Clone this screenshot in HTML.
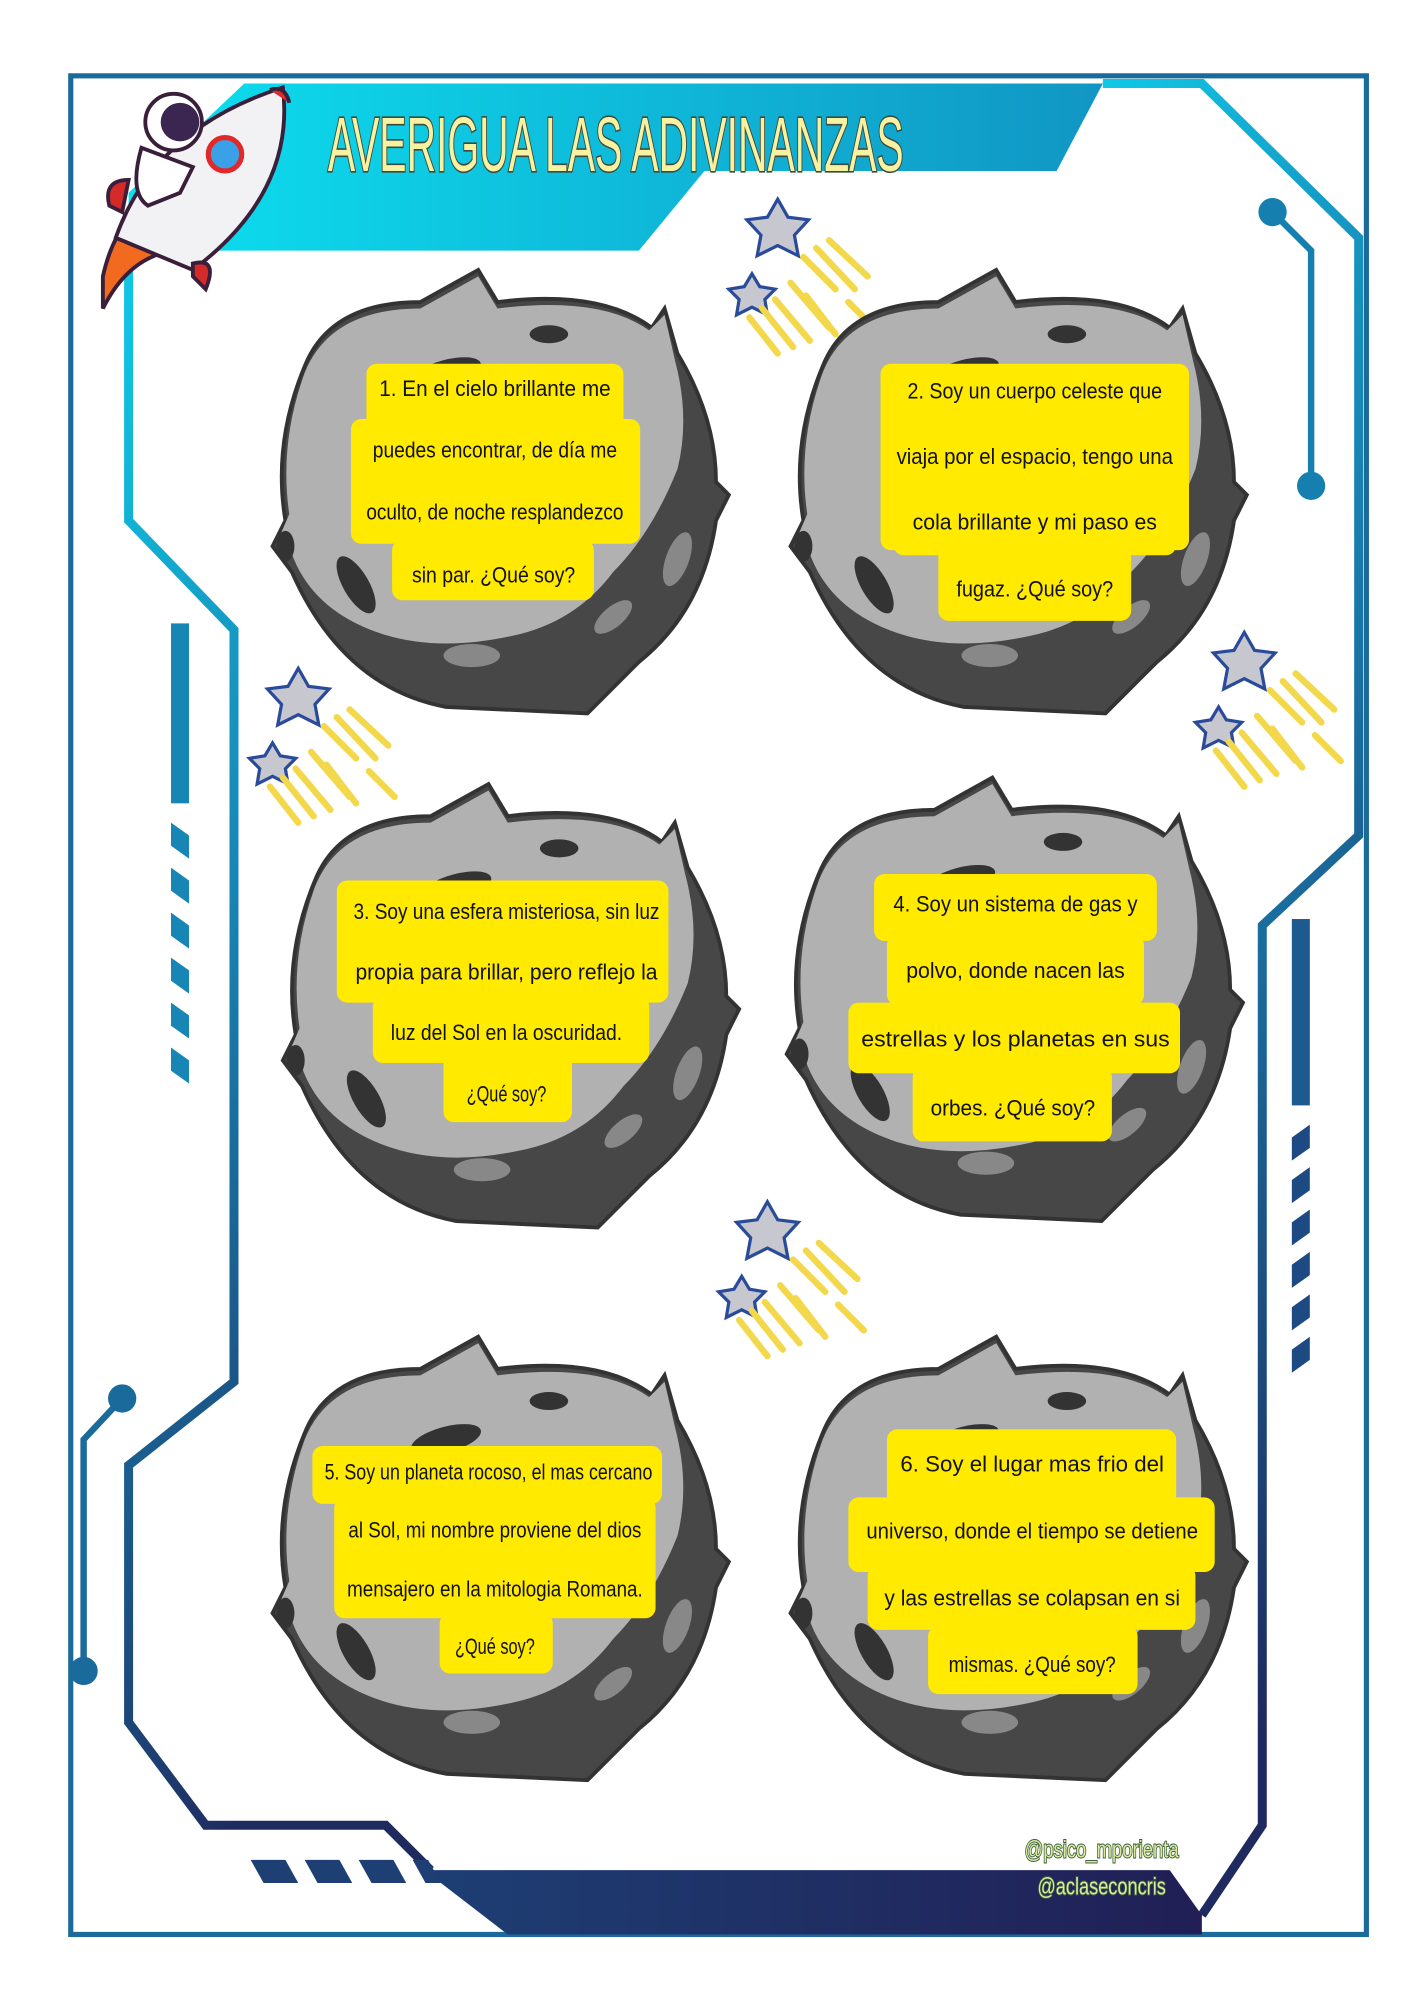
<!DOCTYPE html>
<html><head><meta charset="utf-8"><style>
html,body{margin:0;padding:0;background:#fff;}
svg{display:block;}
.t{font-family:"Liberation Sans Narrow","Liberation Sans",sans-serif;font-size:17px;fill:#111;}
</style></head><body>
<svg width="1414" height="2000" viewBox="0 0 1100 1556" xmlns="http://www.w3.org/2000/svg">
<defs>
<linearGradient id="fr" x1="0" y1="0" x2="0.3" y2="1">
<stop offset="0" stop-color="#10c8e6"/><stop offset="0.45" stop-color="#1786b5"/><stop offset="1" stop-color="#1f2a5e"/>
</linearGradient>
<linearGradient id="ban" x1="0" y1="0" x2="1" y2="0">
<stop offset="0" stop-color="#0ce0f0"/><stop offset="1" stop-color="#1196c4"/>
</linearGradient>
<linearGradient id="bot" x1="0" y1="0" x2="1" y2="0">
<stop offset="0" stop-color="#1d3f74"/><stop offset="1" stop-color="#211f55"/>
</linearGradient>
<g id="moon">
<path d="M-150,-100 Q-130,-150 -60,-150 L-15,-175 L0,-150 Q80,-160 120,-130 L130,-145 L140,-110 Q170,-60 170,-10 L180,0 L170,20 Q160,90 110,130 L70,170 L-40,165 Q-120,150 -160,60 L-175,40 L-165,20 Q-175,-40 -150,-100Z" fill="#474747" stroke="#333" stroke-width="3"/>
<path d="M-150,-95 Q-130,-145 -60,-145 L-15,-170 L0,-145 Q80,-155 118,-128 L130,-140 L138,-105 Q150,-60 140,-20 Q120,30 90,60 Q60,100 10,110 Q-60,125 -110,100 Q-150,80 -162,40 L-172,38 L-162,15 Q-170,-40 -150,-95Z" fill="#b1b1b1"/>
<ellipse cx="-40" cy="-95" rx="28" ry="10" fill="#333" transform="rotate(-15 -40 -95)"/>
<ellipse cx="40" cy="-125" rx="15" ry="7" fill="#333"/>
<ellipse cx="-110" cy="70" rx="10" ry="25" fill="#333" transform="rotate(-30 -110 70)"/>
<ellipse cx="-165" cy="40" rx="7" ry="12" fill="#333"/>
<ellipse cx="-20" cy="125" rx="22" ry="9" fill="#888"/>
<ellipse cx="90" cy="95" rx="18" ry="8" fill="#888" transform="rotate(-40 90 95)"/>
<ellipse cx="140" cy="50" rx="9" ry="22" fill="#888" transform="rotate(20 140 50)"/>
</g>
<g id="stars">
<g stroke="#2a4b9a" stroke-width="2" stroke-linecap="round">
<path d="M20,25 L45,50 M30,18 L60,50 M40,12 L70,40 M55,60 L75,80 M10,45 L40,80 M22,55 L45,85" stroke="#f2d84a" stroke-width="5"/>
</g>
<path d="M0,-20 L8,-6 L24,-4 L13,8 L16,24 L0,16 L-16,24 L-13,8 L-24,-4 L-8,-6Z" fill="#c7c7cf" stroke="#2a4b9a" stroke-width="2.5"/>
<path d="M-20,38 L-14,48 L-2,50 L-10,58 L-8,70 L-20,64 L-32,70 L-30,58 L-38,50 L-26,48Z" fill="#c7c7cf" stroke="#2a4b9a" stroke-width="2.5"/>
<g stroke="#f2d84a" stroke-width="5" stroke-linecap="round"><path d="M-12,65 L12,95 M-2,58 L25,90 M-22,72 L0,100"/></g>
</g>
</defs>

<!-- outer border -->
<rect x="55" y="59" width="1008" height="1446" fill="none" stroke="#1b6b9a" stroke-width="4"/>
<!-- banner -->
<polygon points="190,65 858,65 822,133 548,133 497,195 100,195 100,150" fill="url(#ban)"/>
<!-- frame lines -->
<polyline points="858,65 935,65 1057,185 1057,650 982,720 982,1420 935,1490" fill="none" stroke="url(#fr)" stroke-width="7"/>
<polyline points="100,195 100,405 182,490 182,1075 100,1140 100,1340 160,1420 300,1420 335,1455" fill="none" stroke="url(#fr)" stroke-width="7"/>
<polygon points="330,1455 910,1455 935,1490 935,1505 395,1505" fill="url(#bot)"/>
<!-- dashes left -->
<rect x="133" y="485" width="14" height="140" fill="#1786b5"/>
<g fill="#1786b5"><polygon points="133,640 147,650 147,668 133,658"/><polygon points="133,675 147,685 147,703 133,693"/><polygon points="133,710 147,720 147,738 133,728"/><polygon points="133,745 147,755 147,773 133,763"/><polygon points="133,780 147,790 147,808 133,798"/><polygon points="133,815 147,825 147,843 133,833"/></g>
<!-- dashes right -->
<rect x="1005" y="715" width="14" height="145" fill="#1c5a90"/>
<g fill="#1d4a82"><polygon points="1005,885 1019,875 1019,893 1005,903"/><polygon points="1005,918 1019,908 1019,926 1005,936"/><polygon points="1005,951 1019,941 1019,959 1005,969"/><polygon points="1005,984 1019,974 1019,992 1005,1002"/><polygon points="1005,1017 1019,1007 1019,1025 1005,1035"/><polygon points="1005,1050 1019,1040 1019,1058 1005,1068"/></g>
<!-- bottom dashes -->
<g fill="#1d3f74"><polygon points="195,1447 222,1447 232,1465 205,1465"/><polygon points="237,1447 264,1447 274,1465 247,1465"/><polygon points="279,1447 306,1447 316,1465 289,1465"/><polygon points="321,1447 333,1447 343,1465 331,1465"/></g>
<!-- circuits -->
<polyline points="990,165 1020,195 1020,378" fill="none" stroke="#1580b0" stroke-width="5"/>
<circle cx="990" cy="165" r="11" fill="#1580b0"/><circle cx="1020" cy="378" r="11" fill="#1580b0"/>
<polyline points="95,1088 65,1120 65,1300" fill="none" stroke="#1a6a9c" stroke-width="5"/>
<circle cx="95" cy="1088" r="11" fill="#1a6a9c"/><circle cx="65" cy="1300" r="11" fill="#1a6a9c"/>

<!-- title -->
<text x="255" y="133" font-family="Liberation Sans Narrow,Liberation Sans,sans-serif" font-size="60" fill="#f6f2a2" stroke="#3c4a3c" stroke-width="2.5" paint-order="stroke" textLength="448" lengthAdjust="spacingAndGlyphs">AVERIGUA LAS ADIVINANZAS</text>

<!-- rocket -->
<g>
<path d="M80,215 Q90,170 120,155 L135,195 Q100,200 80,240Z" fill="#f26a1f" stroke="#3a1f3a" stroke-width="3"/>
<path d="M90,185 Q120,100 220,68 Q230,150 150,210 Z" fill="#f2f2f5" stroke="#3a1f3a" stroke-width="3"/>
<path d="M210,70 Q222,66 225,80" fill="#e02a2a" stroke="#3a1f3a" stroke-width="3"/>
<path d="M150,205 Q170,200 160,225 L150,215Z" fill="#d42a2a" stroke="#3a1f3a" stroke-width="3"/>
<path d="M85,160 Q80,140 100,140 L95,165Z" fill="#d42a2a" stroke="#3a1f3a" stroke-width="3"/>
<circle cx="175" cy="120" r="13" fill="#3aa0e8" stroke="#e02a2a" stroke-width="4"/>
<circle cx="135" cy="95" r="22" fill="#fff" stroke="#3a1f3a" stroke-width="3"/>
<circle cx="140" cy="95" r="15" fill="#3a2650"/>
<path d="M110,115 Q100,150 115,160 L140,150 L150,130Z" fill="#fff" stroke="#3a1f3a" stroke-width="3"/>
</g>

<!-- stars -->
<use href="#stars" x="605" y="175"/>
<use href="#stars" x="232" y="540"/>
<use href="#stars" x="968" y="512"/>
<use href="#stars" x="597" y="955"/>

<!-- moons -->
<use href="#moon" x="387" y="385"/>
<use href="#moon" x="790" y="385"/>
<use href="#moon" x="395" y="785"/>
<use href="#moon" x="787" y="780"/>
<use href="#moon" x="387" y="1215"/>
<use href="#moon" x="790" y="1215"/>

<g fill="#ffea00">
<!-- box1 -->
<rect x="285" y="283" width="200" height="50" rx="8"/><rect x="273" y="326" width="225" height="97" rx="8"/><rect x="305" y="420" width="157" height="47" rx="8"/>
<!-- box2 -->
<rect x="685" y="283" width="240" height="145" rx="8"/><rect x="695" y="380" width="220" height="52" rx="8"/><rect x="730" y="425" width="150" height="58" rx="8"/>
<!-- box3 -->
<rect x="262" y="685" width="258" height="95" rx="8"/><rect x="290" y="775" width="215" height="52" rx="8"/><rect x="345" y="820" width="100" height="53" rx="8"/>
<!-- box4 -->
<rect x="680" y="680" width="220" height="52" rx="8"/><rect x="690" y="727" width="200" height="55" rx="8"/><rect x="660" y="780" width="258" height="55" rx="8"/><rect x="710" y="830" width="155" height="58" rx="8"/>
<!-- box5 -->
<rect x="243" y="1125" width="272" height="45" rx="8"/><rect x="260" y="1165" width="250" height="94" rx="8"/><rect x="342" y="1255" width="88" height="47" rx="8"/>
<!-- box6 -->
<rect x="690" y="1112" width="225" height="60" rx="8"/><rect x="660" y="1165" width="285" height="58" rx="8"/><rect x="675" y="1218" width="255" height="50" rx="8"/><rect x="722" y="1265" width="163" height="53" rx="8"/>
</g>

<g class="t" text-anchor="middle">
<text x="385" y="308" textLength="180" lengthAdjust="spacingAndGlyphs">1. En el cielo brillante me</text>
<text x="385" y="356" textLength="190" lengthAdjust="spacingAndGlyphs">puedes encontrar, de día me</text>
<text x="385" y="404" textLength="200" lengthAdjust="spacingAndGlyphs">oculto, de noche resplandezco</text>
<text x="384" y="453" textLength="127" lengthAdjust="spacingAndGlyphs">sin par.  ¿Qué soy?</text>

<text x="805" y="310" textLength="198" lengthAdjust="spacingAndGlyphs">2. Soy un cuerpo celeste que</text>
<text x="805" y="361" textLength="215" lengthAdjust="spacingAndGlyphs">viaja por el espacio, tengo una</text>
<text x="805" y="412" textLength="190" lengthAdjust="spacingAndGlyphs">cola brillante y mi paso es</text>
<text x="805" y="464" textLength="122" lengthAdjust="spacingAndGlyphs">fugaz.  ¿Qué soy?</text>

<text x="394" y="715" textLength="238" lengthAdjust="spacingAndGlyphs">3. Soy una esfera misteriosa, sin luz</text>
<text x="394" y="762" textLength="235" lengthAdjust="spacingAndGlyphs">propia para brillar, pero reflejo la</text>
<text x="394" y="809" textLength="180" lengthAdjust="spacingAndGlyphs">luz del Sol en la oscuridad.</text>
<text x="394" y="857" textLength="62" lengthAdjust="spacingAndGlyphs">¿Qué soy?</text>

<text x="790" y="709" textLength="190" lengthAdjust="spacingAndGlyphs">4. Soy un sistema de gas y</text>
<text x="790" y="761" textLength="170" lengthAdjust="spacingAndGlyphs">polvo, donde nacen las</text>
<text x="790" y="814" textLength="240" lengthAdjust="spacingAndGlyphs">estrellas y los planetas en sus</text>
<text x="788" y="868" textLength="128" lengthAdjust="spacingAndGlyphs">orbes. ¿Qué soy?</text>

<text x="380" y="1151" textLength="255" lengthAdjust="spacingAndGlyphs">5. Soy un planeta rocoso, el mas cercano</text>
<text x="385" y="1196" textLength="228" lengthAdjust="spacingAndGlyphs">al Sol, mi nombre proviene del dios</text>
<text x="385" y="1242" textLength="230" lengthAdjust="spacingAndGlyphs">mensajero en la mitologia Romana.</text>
<text x="385" y="1287" textLength="62" lengthAdjust="spacingAndGlyphs">¿Qué soy?</text>

<text x="803" y="1145" textLength="205" lengthAdjust="spacingAndGlyphs">6. Soy el lugar mas frio del</text>
<text x="803" y="1197" textLength="258" lengthAdjust="spacingAndGlyphs">universo, donde el tiempo se detiene</text>
<text x="803" y="1249" textLength="230" lengthAdjust="spacingAndGlyphs">y las estrellas se colapsan en si</text>
<text x="803" y="1301" textLength="130" lengthAdjust="spacingAndGlyphs">mismas. ¿Qué soy?</text>
</g>

<!-- credits -->
<g font-family="Liberation Sans Narrow,Liberation Sans,sans-serif" font-size="19" fill="#d6ec9a" stroke="#3c5a3c" stroke-width="1.5" paint-order="stroke" text-anchor="middle">
<text x="857" y="1445" textLength="120" lengthAdjust="spacingAndGlyphs">@psico_mporienta</text>
<text x="857" y="1474" textLength="100" lengthAdjust="spacingAndGlyphs">@aclaseconcris</text>
</g>
</svg>
</body></html>
